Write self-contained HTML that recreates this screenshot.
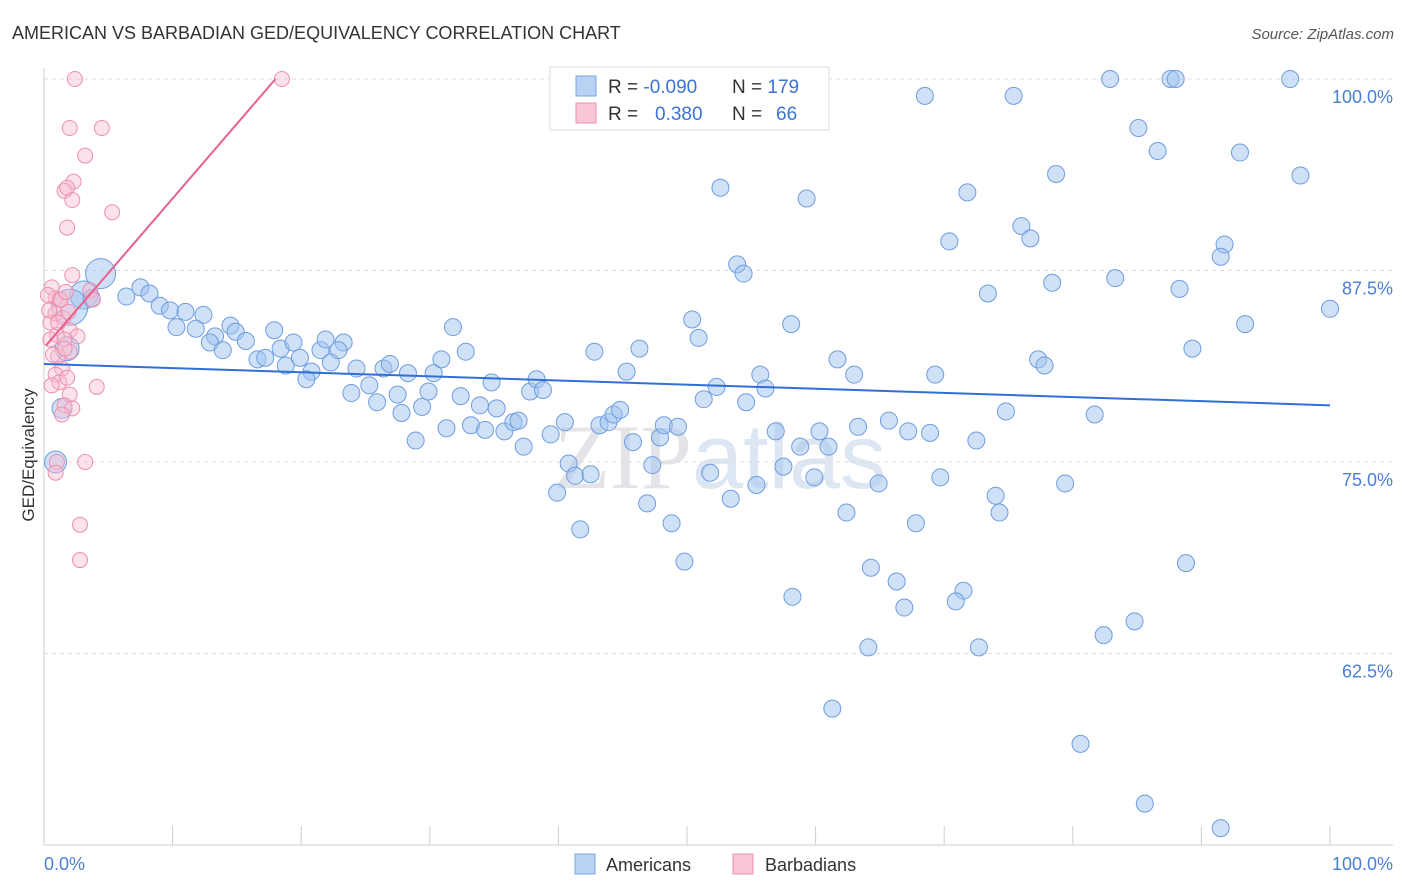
<!DOCTYPE html>
<html><head><meta charset="utf-8"><style>
body{margin:0;background:#fff;font-family:"Liberation Sans",sans-serif;}
svg{display:block}
</style></head><body>
<svg id="c" width="1406" height="892" xmlns="http://www.w3.org/2000/svg">
<text x="12" y="39" font-size="18" fill="#333">AMERICAN VS BARBADIAN GED/EQUIVALENCY CORRELATION CHART</text>
<text x="1394" y="39" font-size="15" fill="#555" font-style="italic" text-anchor="end">Source: ZipAtlas.com</text>
<text x="720" y="488" font-size="92" fill="#e4e4e8" text-anchor="middle" font-family="Liberation Serif,serif">ZIP<tspan fill="#dde6f3" font-family="Liberation Sans,sans-serif">atlas</tspan></text>
<g id="grid"></g>
<g id="axes"></g>
<g id="pts"></g>
<g id="trend"></g>
<text transform="translate(34,455) rotate(-90)" font-size="17" fill="#333" text-anchor="middle">GED/Equivalency</text>
<text x="44" y="870" font-size="18" fill="#4a7fd6">0.0%</text>
<text x="1393" y="870" font-size="18" fill="#4a7fd6" text-anchor="end">100.0%</text>
<g>
<rect x="550" y="67" width="279" height="63" fill="#fff" stroke="#ddd"/>
<rect x="576" y="76" width="20" height="20" fill="#b9d2f3" stroke="#7aa6e4"/>
<rect x="576" y="103" width="20" height="20" fill="#f9c6d5" stroke="#ec8fae"/>
<text x="608" y="93" font-size="19" fill="#333">R = <tspan fill="#3b73d4">-0.090</tspan></text>
<text x="732" y="93" font-size="19" fill="#333">N = <tspan fill="#3b73d4">179</tspan></text>
<text x="608" y="120" font-size="19" fill="#333">R = <tspan fill="#3b73d4" x="655">0.380</tspan></text>
<text x="732" y="120" font-size="19" fill="#333">N = <tspan fill="#3b73d4" x="776">66</tspan></text>
</g>
<g><rect x="575" y="854" width="20" height="20" fill="#b9d2f3" stroke="#7aa6e4"/><text x="606" y="871" font-size="18" fill="#333">Americans</text></g>
<g><rect x="733" y="854" width="20" height="20" fill="#f9c6d5" stroke="#ec8fae"/><text x="765" y="871" font-size="18" fill="#333">Barbadians</text></g>
</svg>
<script>
const yTicks=[100,87.5,75,62.5];
const yTickLabels=["100.0%","87.5%","75.0%","62.5%"];
const blueX=[82.9,87.6,88,96.9,68.5,75.4,85.1,86.6,93,52.6,59.3,71.8,78.7,97.7,76,76.7,70.4,91.8,91.5,53.9,54.4,83.3,78.4,88.3,73.4,100,93.4,58.1,50.4,50.9,89.3,77.3,77.8,61.7,63,69.3,55.7,56.1,52.3,51.3,54.6,74.8,81.7,65.7,67.2,68.9,72.5,63.3,60.3,58.8,61,56.9,57.5,59.9,64.9,69.7,79.4,74,74.3,62.4,67.8,51.8,55.4,53.4,49.8,64.3,66.3,71.5,70.9,66.9,58.2,88.8,84.8,82.4,64.1,72.7,61.3,80.6,85.6,91.5,4.4,3.1,2,3.7,6.4,7.5,8.2,9,9.8,11,12.4,10.3,11.8,14.5,14.9,13.3,12.9,13.9,15.7,17.9,18.4,19.4,16.6,17.2,18.8,19.9,20.8,20.4,21.5,21.9,23.3,22.3,22.9,24.3,25.3,23.9,25.9,26.4,26.9,27.5,27.8,28.3,28.9,29.4,29.9,30.3,30.9,31.8,31.3,32.4,32.8,33.2,33.9,34.3,34.8,35.2,35.8,36.5,36.9,37.3,37.8,38.3,38.8,39.4,39.9,40.5,40.8,41.3,41.7,42.5,42.8,43.2,43.9,44.3,44.8,45.3,45.8,46.3,46.9,47.3,47.9,48.2,48.8,49.3,0.9,1.4,1.8];
const blueY=[100,100,100,100,98.9,98.9,96.8,95.3,95.2,92.9,92.2,92.6,93.8,93.7,90.4,89.6,89.4,89.2,88.4,87.9,87.3,87,86.7,86.3,86,85,84,84,84.3,83.1,82.4,81.7,81.3,81.7,80.7,80.7,80.7,79.8,79.9,79.1,78.9,78.3,78.1,77.7,77,76.9,76.4,77.3,77,76,76,77,74.7,74,73.6,74,73.6,72.8,71.7,71.7,71,74.3,73.5,72.6,68.5,68.1,67.2,66.6,65.9,65.5,66.2,68.4,64.6,63.7,62.9,62.9,58.9,56.6,52.7,51.1,87.3,85.9,85.1,85.7,85.8,86.4,86,85.2,84.9,84.8,84.6,83.8,83.7,83.9,83.5,83.2,82.8,82.3,82.9,83.6,82.4,82.8,81.7,81.8,81.3,81.8,80.9,80.4,82.3,83,82.8,81.5,82.3,81.1,80,79.5,78.9,81.1,81.4,79.4,78.2,80.8,76.4,78.6,79.6,80.8,81.7,83.8,77.2,79.3,82.2,77.4,78.7,77.1,80.2,78.5,77,77.6,77.7,76,79.6,80.4,79.7,76.8,73,77.6,74.9,74.1,70.6,74.2,82.2,77.4,77.6,78.1,78.4,80.9,76.3,82.4,72.3,74.8,76.6,77.4,71,77.3,75,78.5,82.4];
const pinkX=[2.4,18.5,2,4.5,3.2,2.3,1.6,1.8,2.2,5.3,1.8,2.2,0.6,0.9,3.6,3.8,1.2,0.9,1.5,1.9,2,0.5,1,2.6,1.6,2,1.1,1.4,0.9,1.2,1.8,0.6,4.1,2,1.6,2.2,1.4,3.2,1,0.9,2.8,2.8,0.3,0.5,0.7,1.1,1.6,1.3,1.7,0.4];
const pinkY=[100,100,96.8,96.8,95,93.3,92.7,92.9,92.1,91.3,90.3,87.2,86.4,85.7,86.2,85.6,85.6,84.7,84.4,84.8,83.6,84.1,83.3,83.2,83,82.2,81.9,81.1,80.7,80.2,80.5,80,79.9,79.4,78.7,78.5,78.1,75,75,74.3,70.9,68.6,85.9,83,82,84.1,82.4,85.6,86.1,84.9];
const blueTrend=[[0,81.4],[100,78.7]];
const pinkTrend=[[0.15,82.6],[18,100]];
const NS="http://www.w3.org/2000/svg";
const X=v=>44+v*12.86, Y=v=>79+(100-v)*15.32;
function mk(t,a,p){const e=document.createElementNS(NS,t);for(const k in a)e.setAttribute(k,a[k]);p.appendChild(e);return e;}
const grid=document.getElementById('grid'),axes=document.getElementById('axes'),pts=document.getElementById('pts'),tr=document.getElementById('trend');
yTicks.forEach((t,i)=>{
 const l=mk('line',{x1:44,x2:1393,y1:Y(t),y2:Y(t),stroke:'#ddd','stroke-dasharray':'4,4'},grid);
 
 
 const tx=mk('text',{x:1393,y:Y(t)+24,'font-size':18,fill:'#4a7fd6','text-anchor':'end'},axes);
 tx.textContent=yTickLabels[i];
 
 
});
mk('line',{x1:44,x2:44,y1:68,y2:845,stroke:'#ccc'},axes);
mk('line',{x1:44,x2:1393,y1:845,y2:845,stroke:'#ccc'},axes);
for(let i=0;i<=10;i++){const t=mk('line',{x1:X(i*10),x2:X(i*10),y1:826,y2:845,stroke:'#ccc'},axes);
 
 }
const n=blueX.length;
const big={80:15,81:14,82:18};
big[n-3]=11;big[n-2]=10;big[n-1]=12;
blueX.forEach((x,i)=>{const r=big[i]||8.5;
 const c=mk('circle',{cx:X(x),cy:Y(blueY[i]),r:r,fill:'rgba(160,195,240,0.5)',stroke:'#6f9de0','stroke-width':1},pts);
 
 });
pinkX.forEach((x,i)=>{
 const c=mk('circle',{cx:X(x),cy:Y(pinkY[i]),r:7.5,fill:'rgba(248,190,208,0.45)',stroke:'#ec8fae','stroke-width':1},pts);
 
 });
const b=mk('line',{x1:X(blueTrend[0][0]),y1:Y(blueTrend[0][1]),x2:X(blueTrend[1][0]),y2:Y(blueTrend[1][1]),stroke:'#2f6fd6','stroke-width':2},tr);


const p=mk('line',{x1:X(pinkTrend[0][0]),y1:Y(pinkTrend[0][1]),x2:X(pinkTrend[1][0]),y2:Y(pinkTrend[1][1]),stroke:'#e8628f','stroke-width':2},tr);


</script>
</body></html>
